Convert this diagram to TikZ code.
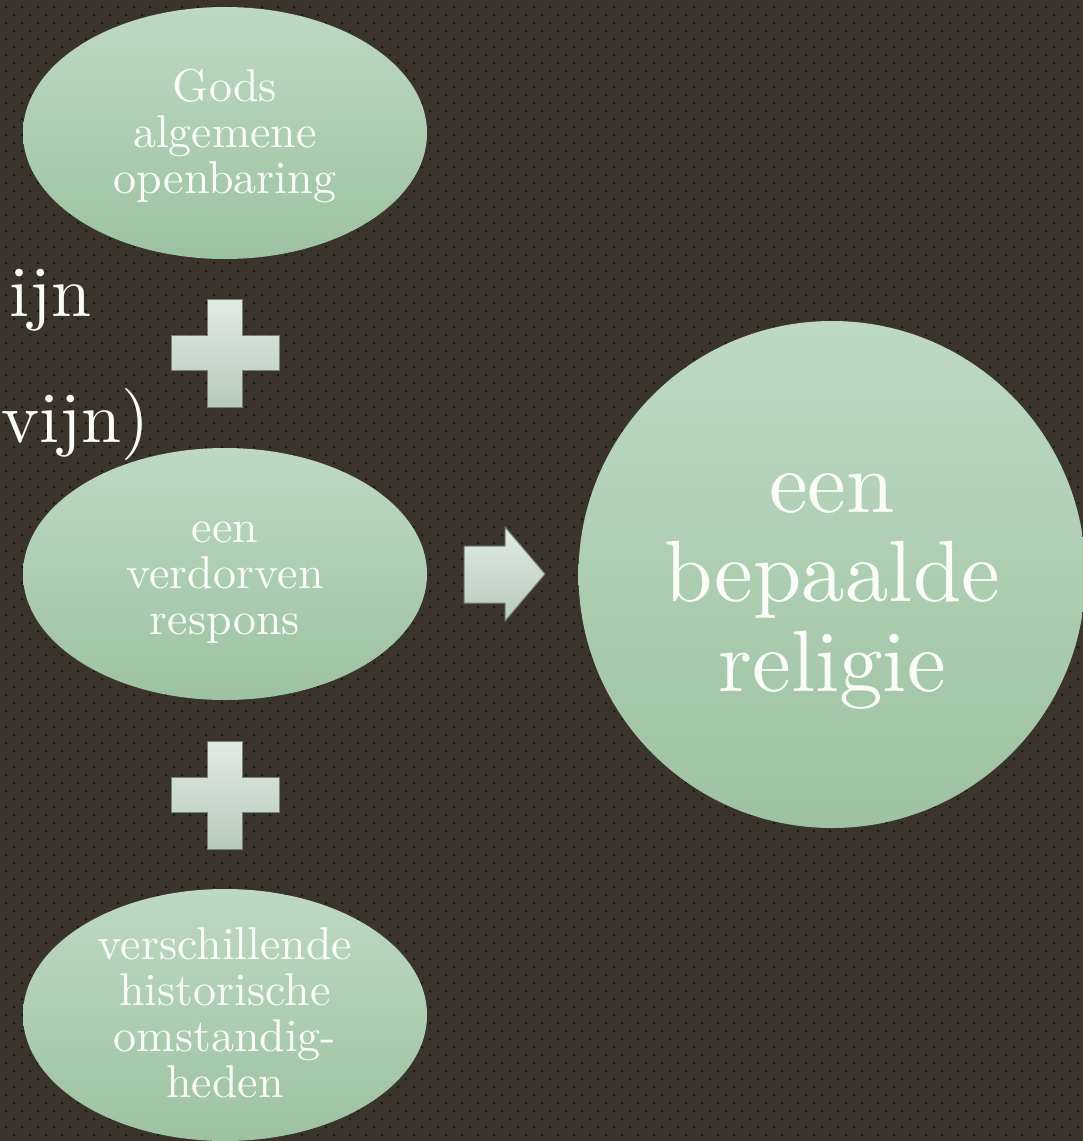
\documentclass[tikz,border=0pt]{standalone}
\usepackage{fontspec}
\setmainfont{lmroman10-regular.otf}
\usetikzlibrary{shapes.geometric}
\definecolor{bgc}{RGB}{58,52,43}
\definecolor{dotc}{RGB}{22,28,18}
\definecolor{elltop}{RGB}{190,217,194}
\definecolor{ellbot}{RGB}{157,194,161}
\definecolor{plustop}{RGB}{224,236,225}
\definecolor{plusbot}{RGB}{183,202,186}
\definecolor{plusedge}{RGB}{118,130,118}
\definecolor{txtc}{RGB}{250,252,248}
\tikzset{
  ovalshape/.style={ellipse, minimum width=404, minimum height=252, inner sep=0pt, top color=elltop, bottom color=ellbot, draw=none},
  bigcircle/.style={circle, minimum size=507, inner sep=0pt, top color=elltop, bottom color=ellbot, draw=none},
  ovaltext/.style={text=txtc, align=center, inner sep=0pt, font=\fontsize{46}{46}\selectfont},
  bigtext/.style={text=txtc, align=center, inner sep=0pt, font=\fontsize{87}{89.25}\selectfont},
  lefttext/.style={text=txtc, inner sep=0pt, font=\fontsize{72}{72}\selectfont},
  blockshape/.style={top color=plustop, bottom color=plusbot, draw=plusedge, line width=1pt, line join=miter},
  plussign/.pic={
    \path[blockshape] (-17.5,-54) -- (17.5,-54) -- (17.5,-17.5) -- (54,-17.5) -- (54,17.5)
      -- (17.5,17.5) -- (17.5,54) -- (-17.5,54) -- (-17.5,17.5) -- (-54,17.5)
      -- (-54,-17.5) -- (-17.5,-17.5) -- cycle;
  }
}
\begin{document}
\begin{tikzpicture}[x=1pt,y=-1pt]
\useasboundingbox (0,0) rectangle (1083,1141);
\fill[bgc] (0,0) rectangle (1083,1141);
\clip (0,0) rectangle (1083,1141);
% dotted texture, one path per row
\foreach \j in {0,...,142}{
  \pgfmathsetmacro{\yy}{6+8*\j}
  \pgfmathsetmacro{\xo}{5+8*mod(\j,2)}
  \fill[dotc] foreach \i in {0,...,67}{ ({\xo+16*\i},\yy) rectangle ++(2,2) };
}

% left text
\node[lefttext, anchor=base east] (t1) at (92,316) {ijn};
\node[lefttext, anchor=base west] (t2) at (1,442) {vijn)};

% ovals
\node[ovalshape] (e1) at (225,133) {};
\node[ovalshape] (e2) at (225,574) {};
\node[ovalshape] (e3) at (225,1015) {};
\node[ovaltext] (e1t) at (225,136.5) {Gods\\algemene\\openbaring};
\node[ovaltext] (e2t) at (225,582.5) {een\\verdorven\\respons};
\node[ovaltext] (e3t) at (225,1013) {verschillende\\historische\\omstandig-\\heden};

% plus signs
\pic (p1) at (225,353) {plussign};
\pic (p2) at (225,795) {plussign};

% block arrow
\path[blockshape] (464,546) -- (505,546) -- (505,527) -- (545,574) -- (505,621)
  -- (505,603) -- (464,603) -- cycle;

% result circle
\node[bigcircle] (res) at (832,574.5) {};
\node[bigtext] (rest) at (832,591.3) {een\\bepaalde\\religie};
\end{tikzpicture}
\end{document}
